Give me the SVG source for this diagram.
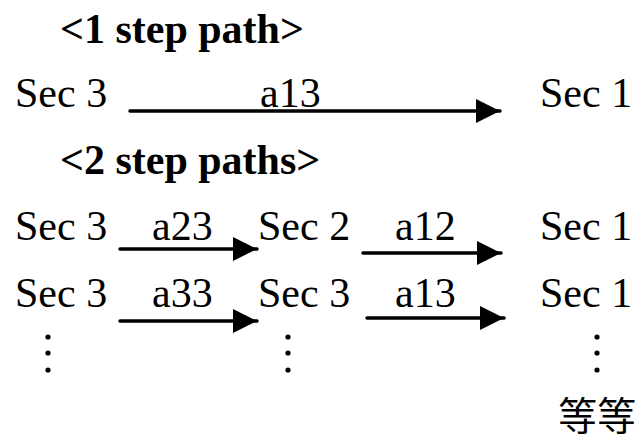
<svg xmlns="http://www.w3.org/2000/svg" width="641" height="440" viewBox="0 0 641 440">
<style>
text{font-family:"Liberation Serif","Times New Roman",serif;font-size:42px;fill:#000}
.t{font-weight:bold}
.cjk{font-family:"Liberation Serif","Noto Sans CJK TC",serif;font-size:39px}
.ln{stroke:#000;stroke-width:3.5;fill:none;stroke-linecap:round}
.dot{fill:#000}
</style>
<defs>
<marker id="ah" markerUnits="userSpaceOnUse" viewBox="0 0 24 24" markerWidth="24" markerHeight="24" refX="24" refY="12" orient="auto">
<path d="M0,0 L24,12 L0,24 Z" fill="#000"/>
</marker>
</defs>
<rect width="641" height="440" fill="#fff"/>
<g id="titles">
<text class="t" x="60" y="43">&lt;1 step path&gt;</text>
<text class="t" x="60" y="174">&lt;2 step paths&gt;</text>
</g>
<g id="row1">
<text x="15" y="107">Sec 3</text>
<text x="540" y="107">Sec 1</text>
</g>
<g id="row2">
<text x="15" y="240">Sec 3</text>
<text x="258" y="240">Sec 2</text>
<text x="540" y="240">Sec 1</text>
</g>
<g id="row3">
<text x="15" y="307">Sec 3</text>
<text x="258" y="307">Sec 3</text>
<text x="540" y="307">Sec 1</text>
</g>
<g id="connectors">
<line class="ln" x1="130" y1="111" x2="500" y2="111" marker-end="url(#ah)"/>
<text x="260" y="107">a13</text>
<line class="ln" x1="120" y1="249" x2="257" y2="249" marker-end="url(#ah)"/>
<text x="152" y="240">a23</text>
<line class="ln" x1="363" y1="253" x2="501" y2="253" marker-end="url(#ah)"/>
<text x="395" y="240">a12</text>
<line class="ln" x1="120" y1="321" x2="257" y2="321" marker-end="url(#ah)"/>
<text x="152" y="307">a33</text>
<line class="ln" x1="367" y1="318" x2="504" y2="318" marker-end="url(#ah)"/>
<text x="395" y="307">a13</text>
</g>
<g id="dots">
<circle class="dot" cx="48" cy="337" r="2.6"/>
<circle class="dot" cx="48" cy="353" r="2.6"/>
<circle class="dot" cx="48" cy="370" r="2.6"/>
<circle class="dot" cx="288" cy="337" r="2.6"/>
<circle class="dot" cx="288" cy="353" r="2.6"/>
<circle class="dot" cx="288" cy="370" r="2.6"/>
<circle class="dot" cx="597" cy="337" r="2.6"/>
<circle class="dot" cx="597" cy="353" r="2.6"/>
<circle class="dot" cx="597" cy="370" r="2.6"/>
</g>
<g id="etc">
<text class="cjk" x="558" y="430">等等</text>
</g>
</svg>
